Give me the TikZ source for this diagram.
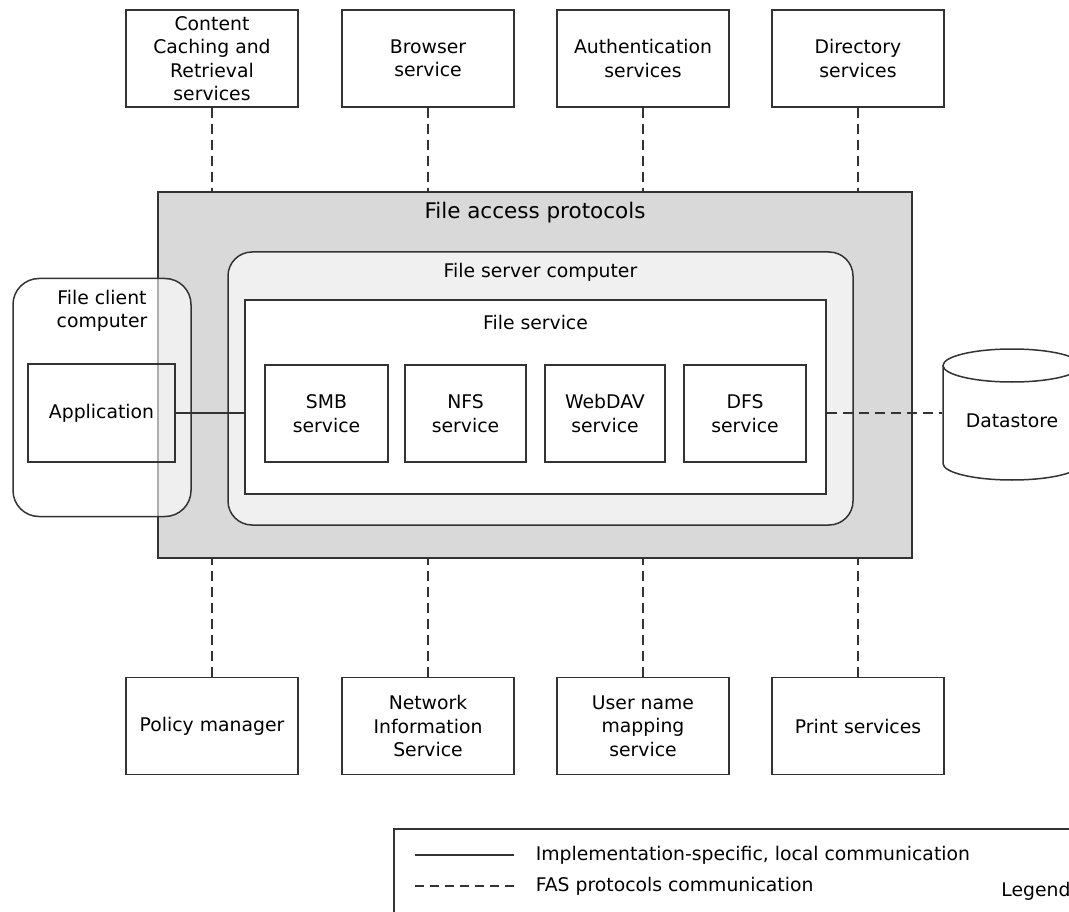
\documentclass[tikz,border=0pt]{standalone}
\usepackage{fontspec}
\setmainfont{DejaVu Sans}
\newcommand\bodyfs{\fontsize{18.8}{23.5}\selectfont}
\newcommand\titlefs{\fontsize{21.5}{25}\selectfont}
\definecolor{lc}{HTML}{333333}
\definecolor{protgray}{HTML}{D9D9D9}
\definecolor{srvgray}{HTML}{F0F0F0}
\begin{document}
\begin{tikzpicture}[x=1pt,y=-1pt,line width=1.5pt,
  outerbox/.style={draw=lc,fill=white,minimum width=172pt,minimum height=97pt,align=center,inner sep=2pt,font=\bodyfs},
  svcbox/.style={draw=lc,fill=white,minimum height=97pt,align=center,inner sep=2pt,font=\bodyfs},
  fasdash/.style={draw=lc,dash pattern=on 10pt off 6pt},
  localline/.style={draw=lc},
  lbl/.style={font=\bodyfs,align=center,inner sep=0pt},
  ttl/.style={font=\titlefs,inner sep=0pt}]
\useasboundingbox (0,0) rectangle (1069,912);
% top services
\node[outerbox] (t1) at (212,58.5) {Content\\Caching and\\Retrieval\\services};
\node[outerbox] (t2) at (428,58.5) {Browser\\service};
\node[outerbox] (t3) at (643,58.5) {Authentication\\services};
\node[outerbox] (t4) at (858,58.5) {Directory\\services};
% bottom services
\node[outerbox] (b1) at (212,726) {Policy manager};
\node[outerbox] (b2) at (428,726) {Network\\Information\\Service};
\node[outerbox] (b3) at (643,726) {User name\\mapping\\service};
\node[outerbox] (b4) at (858,726) {Print services};
% file access protocols
\node[draw=lc,fill=protgray,minimum width=754pt,minimum height=366pt] (fap) at (535,375) {};
\node[ttl] (faptitle) at (535,213) {File access protocols};
% file server computer
\node[draw=lc,fill=srvgray,rounded corners=24pt,minimum width=625pt,minimum height=273pt] (fsc) at (540.5,388.5) {};
\node[lbl] (fsctitle) at (540.5,272) {File server computer};
% file service
\node[draw=lc,fill=white,minimum width=581pt,minimum height=194pt] (fsvc) at (535.5,397) {};
\node[lbl] (fsvctitle) at (535.5,322) {File service};
\node[svcbox,minimum width=123pt] (smb) at (326.5,413.5) {SMB\\service};
\node[svcbox,minimum width=121pt] (nfs) at (465.5,413.5) {NFS\\service};
\node[svcbox,minimum width=120pt] (dav) at (605,413.5) {WebDAV\\service};
\node[svcbox,minimum width=122pt] (dfs) at (745,413.5) {DFS\\service};
% file client computer
\node[draw=lc,fill=white,fill opacity=0.6,rounded corners=26pt,minimum width=178pt,minimum height=238pt] (fcc) at (102,397.5) {};
\node[lbl] (fcctitle) at (102,311) {File client\\computer};
\node[draw=lc,minimum width=147pt,minimum height=98pt,font=\bodyfs,inner sep=0pt] (app) at (101.5,413) {Application};
% datastore
\draw[draw=lc,fill=white] (943,365.5) -- (943,463.5) arc[start angle=180,end angle=0,x radius=69,y radius=16.5] -- (1081,365.5);
\draw[draw=lc] (1012,365.5) ellipse[x radius=69,y radius=16.5];
\node[minimum width=138pt,minimum height=131pt,inner sep=0pt] (ds) at (1012,413) {};
\node[lbl] (dstext) at (1012,421) {Datastore};
% connectors
\foreach \t in {t1,t2,t3,t4} \draw[fasdash] (\t.south) -- (\t.south |- fap.north);
\foreach \b in {b1,b2,b3,b4} \draw[fasdash] (\b.north) -- (\b.north |- fap.south);
\draw[localline] (app.east) -- (app.east -| fsvc.west);
\draw[fasdash] (fsvc.east |- ds.west) -- (ds.west);
% legend
\node[draw=lc,minimum width=700pt,minimum height=110pt,anchor=north west] (legend) at (393,828) {};
\coordinate (l1a) at (415,855);
\coordinate (l1b) at (514,855);
\coordinate (l2a) at (415,886);
\coordinate (l2b) at (514,886);
\draw[localline] (l1a) -- (l1b);
\draw[fasdash,dash pattern=on 9pt off 6pt] (l2a) -- (l2b);
\node[lbl,anchor=west] (lt1) at (535,855) {Implementation-specific, local communication};
\node[lbl,anchor=west] (lt2) at (535,886) {FAS protocols communication};
\node[lbl] (lt3) at (1036,891) {Legend};
\end{tikzpicture}
\end{document}
